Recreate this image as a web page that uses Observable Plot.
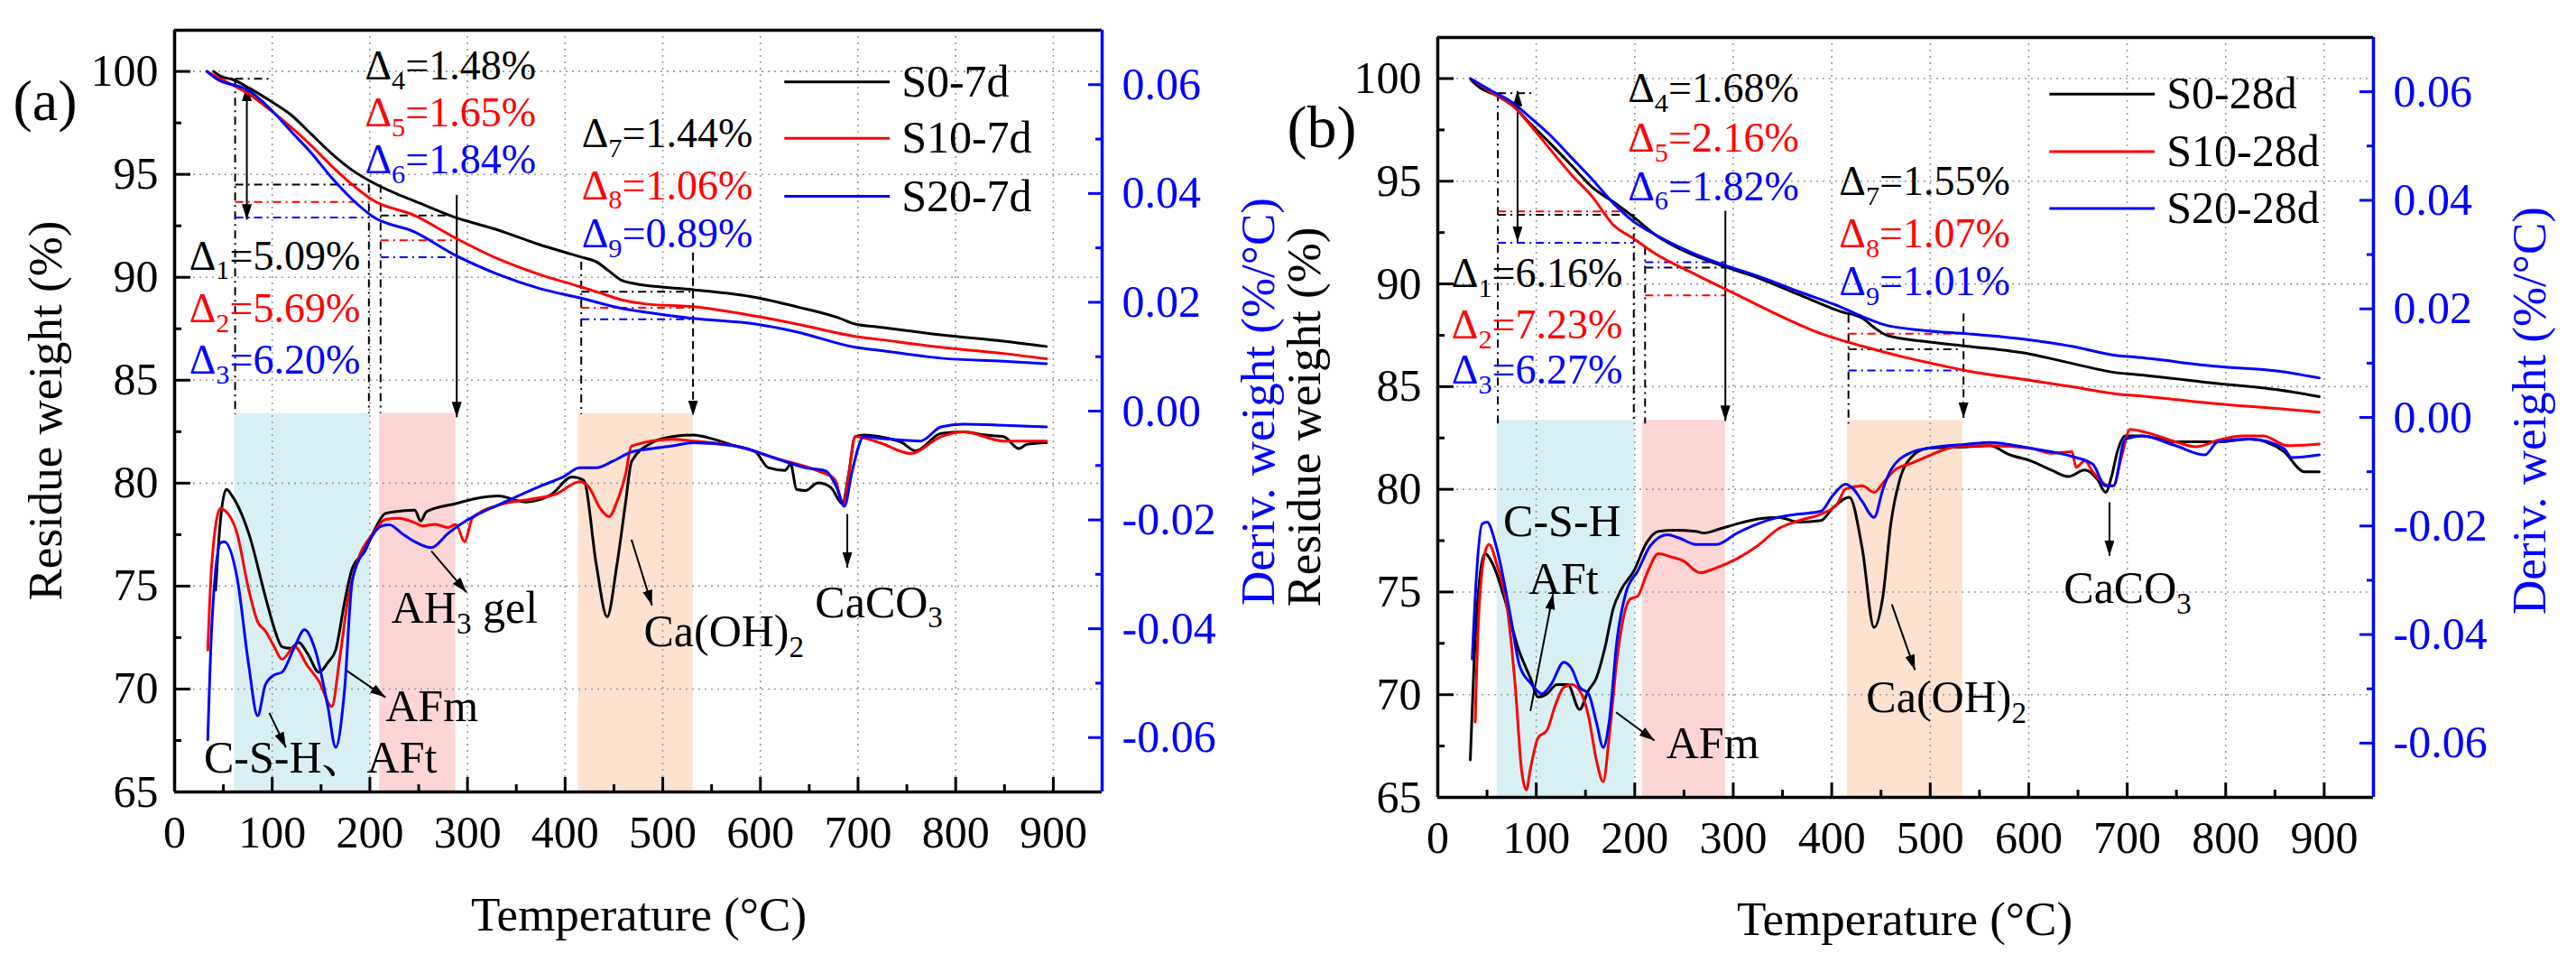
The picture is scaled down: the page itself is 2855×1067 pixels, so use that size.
<!DOCTYPE html>
<html><head><meta charset="utf-8">
<script src="https://cdn.jsdelivr.net/npm/d3@7"></script>
<script src="https://cdn.jsdelivr.net/npm/@observablehq/plot@0.6"></script>
<style>
html,body{margin:0;padding:0;background:#fff;}
#root{position:relative;width:2855px;height:1067px;overflow:hidden;background:#fff;font-family:"Liberation Serif","Times New Roman",serif;}
.panel{position:absolute;top:0;}
.panel svg{overflow:visible;}
.lbl{position:absolute;white-space:nowrap;transform:translate(-50%,-50%);line-height:1;}
.rot{transform:translate(-50%,-50%) rotate(-90deg);}
</style></head><body><div id="root"></div><script>
// ---------- data (Temperature °C, value) ----------
const a_S0_TG = [[40,100],[48,99.75],[60,99.6],[76,99.2],[97,98.6],[119,97.9],[140,96.95],[161,96.0],[182,95.2],[203,94.6],[225,94.1],[246,93.7],[288,92.9],[331,92.3],[373,91.6],[415,91.0],[432,90.75],[445,90.3],[458,89.85],[470,89.7],[531,89.4],[595,89.02],[637,88.57],[680,88.03],[697,87.73],[722,87.58],[785,87.2],[849,86.9],[893,86.64]];
const a_S10_TG = [[33,100],[55,99.44],[76,98.9],[97,98.16],[119,97.3],[140,96.4],[161,95.4],[182,94.5],[203,93.75],[246,93.0],[288,91.9],[331,90.9],[373,90.15],[415,89.55],[436,89.24],[458,88.9],[483,88.7],[531,88.57],[595,88.11],[637,87.73],[697,87.13],[722,86.98],[785,86.6],[849,86.3],[893,86.04]];
const a_S20_TG = [[33,100],[42,99.67],[76,99.06],[97,98.23],[119,97.1],[140,96.04],[161,94.83],[182,93.78],[203,92.95],[246,92.2],[288,91.06],[331,90.15],[373,89.47],[415,89.0],[458,88.49],[483,88.3],[531,88.0],[595,87.73],[637,87.35],[697,86.6],[722,86.45],[785,86.07],[849,85.92],[893,85.8]];
const a_S0_DTG = [[42,-0.0329],[47,-0.020],[53,-0.0144],[59,-0.0156],[76,-0.0225],[93,-0.0341],[102,-0.0399],[110,-0.0433],[119,-0.0436],[127,-0.0425],[136,-0.0445],[148,-0.048],[157,-0.0462],[165,-0.0439],[174,-0.0352],[182,-0.0289],[195,-0.0257],[203,-0.0225],[216,-0.0188],[225,-0.0185],[246,-0.0182],[252,-0.0202],[258,-0.0185],[288,-0.0170],[314,-0.0159],[331,-0.0156],[360,-0.0167],[386,-0.0153],[407,-0.0121],[419,-0.0127],[432,-0.0283],[443,-0.0378],[453,-0.0283],[462,-0.0167],[468,-0.0093],[489,-0.0058],[510,-0.0047],[531,-0.0044],[553,-0.0052],[574,-0.0064],[595,-0.0075],[608,-0.0104],[625,-0.0109],[631,-0.0098],[637,-0.0144],[646,-0.0146],[659,-0.0132],[672,-0.0140],[684,-0.0170],[690,-0.0120],[697,-0.0047],[706,-0.0044],[722,-0.0047],[745,-0.0058],[759,-0.0073],[785,-0.0041],[808,-0.0038],[830,-0.0044],[849,-0.0047],[865,-0.0069],[873,-0.0061],[893,-0.0058]];
const a_S10_DTG = [[34,-0.0439],[38,-0.0283],[47,-0.0179],[51,-0.0182],[64,-0.0225],[76,-0.0329],[85,-0.0387],[93,-0.0404],[102,-0.0433],[110,-0.0456],[123,-0.0433],[136,-0.0468],[148,-0.0497],[161,-0.0543],[169,-0.0456],[178,-0.0341],[186,-0.0283],[203,-0.0225],[216,-0.0199],[229,-0.0197],[246,-0.0205],[254,-0.0211],[267,-0.0208],[280,-0.0214],[288,-0.0208],[297,-0.0240],[305,-0.0197],[331,-0.0173],[364,-0.0162],[390,-0.0153],[415,-0.0130],[424,-0.0139],[436,-0.0179],[445,-0.0194],[453,-0.0167],[462,-0.0115],[468,-0.0064],[510,-0.0052],[531,-0.0055],[574,-0.0064],[616,-0.0087],[659,-0.0110],[676,-0.0125],[685,-0.0170],[691,-0.0110],[697,-0.0047],[722,-0.0058],[754,-0.0078],[785,-0.0047],[808,-0.0038],[849,-0.0055],[893,-0.0055]];
const a_S20_DTG = [[34,-0.0604],[38,-0.0399],[47,-0.0242],[51,-0.0240],[64,-0.0306],[76,-0.0468],[85,-0.0560],[93,-0.0503],[102,-0.0485],[110,-0.0480],[123,-0.0433],[133,-0.0402],[144,-0.0439],[157,-0.0543],[165,-0.0618],[174,-0.0514],[182,-0.0312],[195,-0.0254],[212,-0.0211],[220,-0.0209],[233,-0.0225],[246,-0.0240],[263,-0.0251],[280,-0.0225],[288,-0.0214],[309,-0.0191],[331,-0.0173],[373,-0.0139],[398,-0.0121],[415,-0.0104],[432,-0.0104],[449,-0.0092],[468,-0.0075],[489,-0.0069],[510,-0.0064],[531,-0.0058],[574,-0.0064],[616,-0.0087],[646,-0.0104],[667,-0.0110],[678,-0.0140],[686,-0.0175],[694,-0.0110],[706,-0.0047],[722,-0.0050],[764,-0.0055],[785,-0.0029],[808,-0.0024],[849,-0.0026],[893,-0.0029]];

const b_S0_TG = [[34,99.92],[43,99.55],[60,99.17],[77,98.64],[94,97.8],[115,96.8],[136,95.76],[157,94.7],[178,94.0],[199,93.25],[220,92.42],[241,91.82],[262,91.36],[292,90.83],[325,90.3],[367,89.47],[410,88.64],[431,88.33],[443,87.88],[456,87.5],[494,87.2],[539,86.96],[602,86.58],[644,86.13],[690,85.67],[707,85.6],[792,85.15],[854,84.84],[895,84.51]];
const b_S10_TG = [[36,99.92],[52,99.4],[77,98.64],[94,97.73],[115,96.5],[136,95.3],[157,94.24],[178,92.88],[199,92.2],[220,91.5],[262,90.45],[304,89.47],[346,88.48],[389,87.58],[431,86.97],[473,86.44],[501,86.14],[539,85.75],[602,85.3],[644,84.99],[695,84.61],[707,84.57],[792,84.16],[854,83.93],[895,83.75]];
const b_S20_TG = [[33,100],[52,99.47],[77,98.79],[94,98.1],[115,97.2],[136,96.14],[157,95.08],[178,93.94],[199,93.03],[220,92.42],[262,91.44],[292,90.9],[325,90.38],[367,89.62],[410,88.86],[435,88.33],[452,88.03],[494,87.73],[539,87.57],[602,87.27],[644,86.96],[690,86.51],[707,86.44],[792,85.98],[854,85.75],[895,85.42]];
const b_S0_DTG = [[33,-0.0631],[37,-0.0445],[43,-0.0289],[48,-0.0251],[56,-0.0271],[69,-0.0341],[81,-0.0422],[94,-0.048],[102,-0.0515],[111,-0.0509],[121,-0.0492],[132,-0.0492],[144,-0.0538],[153,-0.0503],[161,-0.048],[170,-0.0422],[178,-0.0353],[186,-0.0318],[199,-0.0283],[212,-0.0231],[224,-0.0210],[241,-0.0208],[262,-0.0210],[270,-0.0213],[287,-0.0205],[304,-0.0196],[325,-0.0187],[346,-0.0184],[367,-0.0193],[389,-0.0190],[401,-0.0167],[418,-0.0147],[431,-0.0242],[443,-0.0387],[452,-0.0329],[460,-0.0196],[469,-0.0115],[480,-0.0075],[497,-0.0057],[539,-0.0054],[560,-0.0052],[581,-0.0069],[602,-0.0080],[623,-0.0097],[640,-0.0109],[657,-0.0097],[670,-0.0115],[678,-0.0138],[684,-0.0110],[690,-0.0063],[698,-0.0034],[715,-0.0034],[749,-0.0045],[792,-0.0045],[825,-0.0040],[859,-0.0063],[880,-0.0100],[895,-0.0100]];
const b_S10_DTG = [[38,-0.0561],[41,-0.0387],[48,-0.0248],[52,-0.0234],[60,-0.0271],[71,-0.0358],[79,-0.0503],[85,-0.0648],[90,-0.0686],[94,-0.0648],[102,-0.059],[111,-0.0576],[119,-0.0532],[128,-0.0497],[136,-0.0492],[144,-0.0503],[153,-0.055],[161,-0.0631],[168,-0.0671],[174,-0.059],[182,-0.0445],[195,-0.0335],[203,-0.0329],[212,-0.0289],[224,-0.0251],[237,-0.0257],[250,-0.0265],[262,-0.0283],[266,-0.0286],[283,-0.0277],[304,-0.0260],[325,-0.0236],[346,-0.0205],[367,-0.0190],[389,-0.0178],[405,-0.0161],[414,-0.0132],[431,-0.0126],[443,-0.0138],[452,-0.0121],[464,-0.0097],[480,-0.0085],[497,-0.0072],[518,-0.0057],[526,-0.0054],[560,-0.0052],[602,-0.0057],[623,-0.0066],[644,-0.0063],[648,-0.0092],[657,-0.0080],[665,-0.0100],[682,-0.0126],[686,-0.0126],[694,-0.0074],[703,-0.0022],[720,-0.0028],[749,-0.0045],[770,-0.0054],[792,-0.0042],[817,-0.0034],[838,-0.0034],[863,-0.0052],[895,-0.0049]];
const b_S20_DTG = [[35,-0.0445],[39,-0.0300],[45,-0.0196],[50,-0.0193],[60,-0.0242],[73,-0.0358],[83,-0.0457],[94,-0.0489],[106,-0.0509],[115,-0.0492],[128,-0.0451],[136,-0.0463],[144,-0.0497],[153,-0.0509],[161,-0.0561],[168,-0.0608],[174,-0.0561],[182,-0.0410],[191,-0.0323],[203,-0.0283],[216,-0.0236],[233,-0.0216],[245,-0.0222],[262,-0.0234],[283,-0.0234],[304,-0.0213],[325,-0.0196],[346,-0.0184],[367,-0.0178],[389,-0.0173],[401,-0.0144],[414,-0.0123],[422,-0.0132],[431,-0.0155],[443,-0.0184],[452,-0.0132],[460,-0.0097],[480,-0.0065],[497,-0.0057],[539,-0.0049],[560,-0.0046],[602,-0.0057],[644,-0.0072],[665,-0.0086],[678,-0.0126],[686,-0.0126],[698,-0.0040],[715,-0.0034],[749,-0.0052],[779,-0.0069],[792,-0.0045],[825,-0.0040],[859,-0.0057],[867,-0.0074],[895,-0.0069]];

const seriesA = ["S0-7d","S10-7d","S20-7d"];
const seriesB = ["S0-28d","S10-28d","S20-28d"];

const xMajor = [0,100,200,300,400,500,600,700,800,900];
const xMinor = [50,150,250,350,450,550,650,750,850];
const yLeftMajor = [65,70,75,80,85,90,95,100];
const yLeftMinor = [67.5,72.5,77.5,82.5,87.5,92.5,97.5];
const yRightMajor = [-0.06,-0.04,-0.02,0,0.02,0.04,0.06];
const yRightMinor = [-0.05,-0.03,-0.01,0.01,0.03,0.05];

// shaded decomposition ranges [T1, T2, top(%)]
const regionsA = [[61.4,200.4,83.38,"c"],[210,288,83.38,"p"],[414,531,83.38,"o"]];
const regionsB = [[60.2,200,83.36,"c"],[208,292,83.36,"p"],[416,533,83.36,"o"]];

// dash-dot guide segments [T1, v1, T2, v2, colour key]
const guidesA = [[62,99.64,100,99.64,"k"],[62,99.64,62,83.35,"k"],[62,94.5,199,94.5,"k"],[62,93.66,199,93.66,"r"],[62,92.9,199,92.9,"b"],[199,94.5,199,83.4,"k"],[211,94.5,211,83.4,"k"],[211,93.0,288,93.0,"k"],[211,91.8,288,91.8,"r"],[211,90.98,288,90.98,"b"],[416.5,90.75,416.5,83.35,"k"],[416.5,89.3,529,89.3,"k"],[416.5,88.52,529,88.52,"r"],[416.5,87.96,529,87.96,"b"]];
const guidesB = [[61,99.29,96,99.29,"k"],[61,99.29,61,83.2,"k"],[61,93.53,191,93.53,"r"],[61,93.36,199,93.36,"k"],[61,92.0,199,92.0,"b"],[199,93.36,199,83.2,"k"],[210.5,91.8,210.5,83.2,"k"],[210.5,91.06,292,91.06,"b"],[210.5,90.8,292,90.8,"k"],[210.5,89.44,292,89.44,"r"],[417,88.5,417,83.2,"k"],[417,87.58,531,87.58,"r"],[417,86.82,531,86.82,"k"],[417,85.79,531,85.79,"b"]];

// arrows [T1, v1, T2, v2, kind]  kind: d=double, s=solid, h=dashed
const arrowsA = [[74,99.3,74,92.8,"d"],[289,94.0,289,83.2,"s"],[531,91.2,531,83.27,"h"],[263,76.7,299,74.7,"s"],[176,70.9,216,69.6,"s"],[97,68.84,114,67.16,"s"],[468,77.25,489,74.06,"s"],[689,78.5,689,75.9,"s"]];
const arrowsB = [[81,99.4,81,92.05,"d"],[292,93.56,292,83.33,"s"],[533.8,88.56,533.8,83.48,"h"],[94,69.2,117,74.9,"s"],[181,69.14,220,67.77,"s"],[461,74.4,484.5,71.2,"s"],[682,79.37,682,76.76,"s"]];

// text labels [T, v(baseline), text, colour key]   {n} = subscript
const deltasA = [[195,99.6,"Δ{4}=1.48%","k"],[195,97.33,"Δ{5}=1.65%","r"],[195,95.06,"Δ{6}=1.84%","b"],[15,90.38,"Δ{1}=5.09%","k"],[15,87.8,"Δ{2}=5.69%","r"],[15,85.3,"Δ{3}=6.20%","b"],[417,96.34,"Δ{7}=1.44%","k"],[417,93.8,"Δ{8}=1.06%","r"],[417,91.45,"Δ{9}=0.89%","b"]];
const deltasB = [[193,98.86,"Δ{4}=1.68%","k"],[193,96.44,"Δ{5}=2.16%","r"],[193,94.09,"Δ{6}=1.82%","b"],[14,89.85,"Δ{1}=6.16%","k"],[14,87.35,"Δ{2}=7.23%","r"],[14,85.15,"Δ{3}=6.27%","b"],[407.5,94.32,"Δ{7}=1.55%","k"],[407.5,91.8,"Δ{8}=1.07%","r"],[407.5,89.47,"Δ{9}=1.01%","b"]];
const phasesA = [[222,73.2,"AH{3} gel"],[216,68.45,"AFm"],[30,65.93,"C-S-H、AFt"],[480.5,72.07,"Ca(OH){2}"],[656,73.5,"CaCO{3}"]];
const phasesB = [[66.5,77.7,"C-S-H"],[92,74.9,"AFt"],[232,66.93,"AFm"],[435,69.14,"Ca(OH){2}"],[635.6,74.45,"CaCO{3}"]];
// legend rows [T1, T2, v]
const legendA = [[624.5,732.5,99.49],[624.5,732.5,96.75],[624.5,732.5,93.93]];
const legendB = [[621,728,99.24],[621,728,96.44],[621,728,93.67]];

// ---------- helpers ----------
const BLUE = "#0000ff", RED = "#ff0000", BLACK = "#000000";
const COL = {k: BLACK, r: RED, b: BLUE, c: "#d8f0f4", p: "#fdd5d5", o: "#fde2d0"};
const SERIES_COL = [BLACK, RED, BLUE];
const FONT = '"Liberation Serif","Times New Roman","Noto Serif CJK SC","Noto Sans CJK SC",serif';
const D2L = d => 65 + (d + 0.07) / 0.14 * 37;      // derivative -> left-axis units
const L2D = v => (v - 65) / 37 * 0.14 - 0.07;
const fmtR = v => { let d = L2D(v); if (Math.abs(d) < 1e-9) d = 0; return d.toFixed(2); };

function triMarker(color) {
  const ns = "http://www.w3.org/2000/svg";
  const m = document.createElementNS(ns, "marker");
  m.setAttribute("viewBox", "-17 -5.5 17 11");
  m.setAttribute("markerWidth", "17"); m.setAttribute("markerHeight", "11");
  m.setAttribute("markerUnits", "userSpaceOnUse");
  m.setAttribute("orient", "auto-start-reverse");
  m.setAttribute("refX", "0"); m.setAttribute("refY", "0");
  const p = document.createElementNS(ns, "path");
  p.setAttribute("d", "M-17,-5.5L0,0L-17,5.5Z");
  p.setAttribute("fill", color); p.setAttribute("stroke", "none");
  m.appendChild(p);
  return m;
}

function subscripts(svg) {
  svg.querySelectorAll("text").forEach(t => {
    const s = t.textContent;
    if (!s.includes("{")) return;
    while (t.firstChild) t.removeChild(t.firstChild);
    const parts = s.split(/(\{[^}]*\})/).filter(p => p.length);
    let shifted = false;
    const ns = "http://www.w3.org/2000/svg";
    parts.forEach(p => {
      const ts = document.createElementNS(ns, "tspan");
      if (p.startsWith("{")) {
        ts.textContent = p.slice(1, -1);
        ts.setAttribute("font-size", "0.66em");
        ts.setAttribute("dy", "0.36em");
        shifted = true;
      } else {
        ts.textContent = p;
        if (shifted) { ts.setAttribute("dy", "-0.2376em"); shifted = false; }
      }
      t.appendChild(ts);
    });
  });
}

function panel(cfg, useMarker) {
  const mk = useMarker ? triMarker : "arrow";
  const line = (arr, c) => Plot.line(arr, {x: d => d[0], y: d => d[1], stroke: c, strokeWidth: 3, curve: "monotone-x"});
  const dline = (arr, c) => Plot.line(arr, {x: d => d[0], y: d => D2L(d[1]), stroke: c, strokeWidth: 3, curve: "monotone-x"});
  const arrowOf = kind => cfg.arrows.filter(a => a[4] === kind);
  const grid = {stroke: "#9a9a9a", strokeOpacity: 1, strokeWidth: 1.6, strokeDasharray: "2,5"};
  return Plot.plot({
    width: cfg.width, height: 1067,
    marginLeft: cfg.ml, marginRight: cfg.mr, marginTop: cfg.mt, marginBottom: cfg.mb,
    x: {domain: [0, 950]},
    y: {domain: [65, 102]},
    color: {type: "identity"},
    style: {fontFamily: FONT, fontSize: "50px", background: "transparent", overflow: "visible"},
    marks: [
      Plot.rect(cfg.regions, {x1: d => d[0], x2: d => d[1], y1: () => 65, y2: d => d[2], fill: d => COL[d[3]]}),
      Plot.gridX(xMajor.slice(1), grid),
      Plot.gridY(yLeftMajor.slice(1), grid),
      Plot.axisX(xMajor, {tickSize: -16, tickPadding: 42, strokeWidth: 3, label: null, tickFormat: d => String(d)}),
      Plot.axisX(xMinor, {tickSize: -8, strokeWidth: 3, label: null, tickFormat: () => ""}),
      Plot.axisY(yLeftMajor, {anchor: "left", tickSize: -18, tickPadding: 36, strokeWidth: 3, label: null, tickFormat: d => String(d)}),
      Plot.axisY(yLeftMinor, {anchor: "left", tickSize: -8, strokeWidth: 3, label: null, tickFormat: () => ""}),
      Plot.axisY(yRightMajor.map(D2L), {anchor: "right", tickSize: -16, tickPadding: 38, strokeWidth: 3, color: BLUE, label: null, tickFormat: fmtR}),
      Plot.axisY(yRightMinor.map(D2L), {anchor: "right", tickSize: -8, strokeWidth: 3, color: BLUE, label: null, tickFormat: () => ""}),
      Plot.ruleY([102], {stroke: BLACK, strokeWidth: 3.5}),
      Plot.ruleY([65], {stroke: BLACK, strokeWidth: 3.5}),
      Plot.ruleX([0], {stroke: BLACK, strokeWidth: 3.5}),
      Plot.ruleX([950], {stroke: BLUE, strokeWidth: 3.5}),
      Plot.link(cfg.guides, {x1: d => d[0], y1: d => d[1], x2: d => d[2], y2: d => d[3], stroke: d => COL[d[4]], strokeWidth: 2, strokeDasharray: "9,5,2,5"}),
      Plot.link(arrowOf("d"), {x1: d => d[0], y1: d => d[1], x2: d => d[2], y2: d => d[3], stroke: BLACK, strokeWidth: 2, markerStart: mk, markerEnd: mk}),
      Plot.link(arrowOf("s"), {x1: d => d[0], y1: d => d[1], x2: d => d[2], y2: d => d[3], stroke: BLACK, strokeWidth: 2, markerEnd: mk}),
      Plot.link(arrowOf("h"), {x1: d => d[0], y1: d => d[1], x2: d => d[2], y2: d => d[3], stroke: BLACK, strokeWidth: 2, strokeDasharray: "9,5", markerEnd: mk}),
      line(cfg.tg[0], BLACK), line(cfg.tg[1], RED), line(cfg.tg[2], BLUE),
      dline(cfg.dtg[0], BLACK), dline(cfg.dtg[1], RED), dline(cfg.dtg[2], BLUE),
      Plot.link(cfg.legend, {x1: d => d[0], x2: d => d[1], y1: d => d[2], y2: d => d[2], stroke: (d, i) => SERIES_COL[i], strokeWidth: 3}),
      Plot.text(cfg.legend, {x: d => d[1], y: d => d[2], text: (d, i) => cfg.names[i], dx: 13, textAnchor: "start", lineAnchor: "middle", fontSize: 50, fill: BLACK}),
      Plot.text(cfg.deltas, {x: d => d[0], y: d => d[1], text: d => d[2], fill: d => COL[d[3]], textAnchor: "start", lineAnchor: "bottom", fontSize: 46}),
      Plot.text(cfg.phases, {x: d => d[0], y: d => d[1], text: d => d[2], fill: BLACK, textAnchor: "start", lineAnchor: "bottom", fontSize: 50})
    ]
  });
}

const root = document.getElementById("root");
function addPanel(cfg) {
  let svg;
  try { svg = panel(cfg, true); } catch (e) { svg = panel(cfg, false); }
  subscripts(svg);
  const div = document.createElement("div");
  div.className = "panel"; div.style.left = cfg.left + "px";
  div.appendChild(svg); root.appendChild(div);
}
addPanel({left: 0, width: 1420, ml: 193, mr: 199, mt: 33, mb: 190, regions: regionsA, guides: guidesA, arrows: arrowsA,
  tg: [a_S0_TG, a_S10_TG, a_S20_TG], dtg: [a_S0_DTG, a_S10_DTG, a_S20_DTG], legend: legendA, names: seriesA, deltas: deltasA, phases: phasesA});
addPanel({left: 1420, width: 1435, ml: 173, mr: 225, mt: 41, mb: 184, regions: regionsB, guides: guidesB, arrows: arrowsB,
  tg: [b_S0_TG, b_S10_TG, b_S20_TG], dtg: [b_S0_DTG, b_S10_DTG, b_S20_DTG], legend: legendB, names: seriesB, deltas: deltasB, phases: phasesB});

function label(text, x, y, size, color, rot) {
  const d = document.createElement("div");
  d.className = "lbl" + (rot ? " rot" : "");
  d.textContent = text;
  Object.assign(d.style, {left: x + "px", top: y + "px", fontSize: size + "px", color: color, fontFamily: FONT});
  root.appendChild(d);
}
label("(a)", 50, 112, 64, BLACK, false);
label("(b)", 1465, 141, 66, BLACK, false);
label("Residue weight (%)", 50, 455, 53, BLACK, true);
label("Deriv. weight (%/°C)", 1394, 445, 53, BLUE, true);
label("Residue weight (%)", 1445, 462, 53, BLACK, true);
label("Deriv. weight (%/°C)", 2803, 455, 53, BLUE, true);
label("Temperature (°C)", 708, 1013, 53, BLACK, false);
label("Temperature (°C)", 2111, 1018, 53, BLACK, false);
</script></body></html>
